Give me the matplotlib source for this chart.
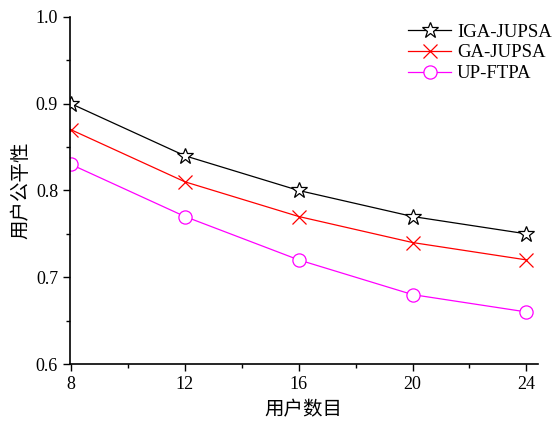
import numpy as np
import matplotlib.pyplot as plt
from matplotlib.ticker import MultipleLocator

users = [8, 12, 16, 20, 24]
iga_jupsa = [0.90, 0.84, 0.80, 0.77, 0.75]
ga_jupsa = [0.87, 0.81, 0.77, 0.74, 0.72]
up_ftpa = [0.83, 0.77, 0.72, 0.68, 0.66]

serif = ['Liberation Serif', 'Noto Sans CJK SC']
plt.rcParams['font.family'] = serif
plt.rcParams['font.size'] = 13

fig = plt.figure(figsize=(5.55, 4.24), dpi=100)
ax = fig.add_axes([0.126, 0.1415, 0.843, 0.8185])

ax.plot(users, iga_jupsa, color='black', lw=0.9, marker='*', ms=12,
        mfc='white', mec='black', mew=0.9, label='IGA-JUPSA')
ax.plot(users, ga_jupsa, color='red', lw=0.9, marker='x', ms=10,
        mec='red', mew=0.9, label='GA-JUPSA')
ax.plot(users, up_ftpa, color='#ff00ff', lw=0.9, marker='o', ms=9.5,
        mfc='white', mec='#ff00ff', mew=0.9, label='UP-FTPA')

ax.set_xlim(7.96, 24.4)
ax.set_ylim(0.6, 1.0)
ax.set_xticks(users)
ax.set_yticks([0.6, 0.7, 0.8, 0.9, 1.0])
ax.xaxis.set_minor_locator(MultipleLocator(2))
ax.yaxis.set_minor_locator(MultipleLocator(0.05))
ax.tick_params(which='major', direction='out', length=5, width=1, labelsize=13)
ax.tick_params(which='minor', direction='out', length=3, width=1)

ax.spines['top'].set_visible(False)
ax.spines['right'].set_visible(False)
ax.spines['left'].set_linewidth(1.2)
ax.spines['bottom'].set_linewidth(1.2)

ax.set_xlabel('用户数目', fontsize=14, labelpad=6)
ax.set_ylabel('用户公平性', fontsize=14)

ax.legend(loc='upper left', bbox_to_anchor=(0.707, 1.003), frameon=False,
          fontsize=13.5, handlelength=2.3, handletextpad=0.3,
          borderaxespad=0.0, labelspacing=0.2)

fig.savefig('out.png', dpi=100)
